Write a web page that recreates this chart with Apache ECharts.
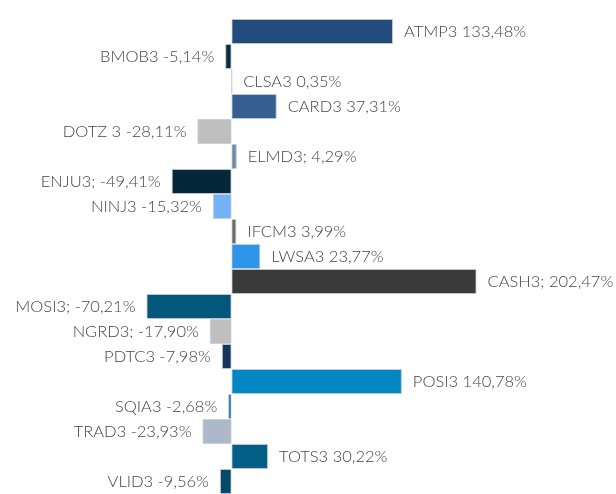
<!DOCTYPE html>
<html>
<head>
<meta charset="utf-8">
<script src="https://cdn.jsdelivr.net/npm/echarts@6/dist/echarts.min.js"></script>
<style>html,body{margin:0;padding:0;background:#fff}#c{width:616px;height:494px}</style>
</head>
<body>
<div id="c"></div>
<script>
const categories = ["ATMP3","BMOB3","CLSA3","CARD3","DOTZ3","ELMD3","ENJU3","NINJ3","IFCM3","LWSA3","CASH3","MOSI3","NGRD3","PDTC3","POSI3","SQIA3","TRAD3","TOTS3","VLID3"];
const values = [133.48,-5.14,0.35,37.31,-28.11,4.29,-49.41,-15.32,3.99,23.77,202.47,-70.21,-17.90,-7.98,140.78,-2.68,-23.93,30.22,-9.56];
const labels = ["ATMP3 133,48%","BMOB3 -5,14%","CLSA3 0,35%","CARD3 37,31%","DOTZ 3 -28,11%","ELMD3; 4,29%","ENJU3; -49,41%","NINJ3 -15,32%","IFCM3 3,99%","LWSA3 23,77%","CASH3; 202,47%","MOSI3; -70,21%","NGRD3; -17,90%","PDTC3 -7,98%","POSI3 140,78%","SQIA3 -2,68%","TRAD3 -23,93%","TOTS3 30,22%","VLID3 -9,56%"];
const colors = ["#234a7c","#0c2d40","#ffffff","#365f91","#bfbfbf","#6f88a8","#06263a","#74b2f8","#6a6a6a","#2f95ea","#3a3a3a","#03567c","#bfbfbf","#17365d","#0087c1","#0b6d9c","#adb9ca","#045e86","#054a6b"];

const chart = echarts.init(document.getElementById('c'), null, {renderer:'canvas'});
chart.setOption({
  animation:false,
  grid:{left:50, width:484, top:19, height:480},
  xAxis:{type:'value', min:-150, max:250, show:false},
  yAxis:{type:'category', data:categories, inverse:true, show:false},
  series:[{
    type:'bar',
    barCategoryGap:0,
    data: values.map((v,i)=>({
      value:v,
      itemStyle:{color:colors[i], borderColor:'rgba(200,205,212,0.8)', borderWidth:1},
      label:{show:true, position: v>=0 ? 'right' : 'left', distance:11,
        formatter: labels[i], fontFamily:'Lato', fontWeight:300, fontSize:16.5, color:'#454545'}
    }))
  }]
});
</script>
</body>
</html>
